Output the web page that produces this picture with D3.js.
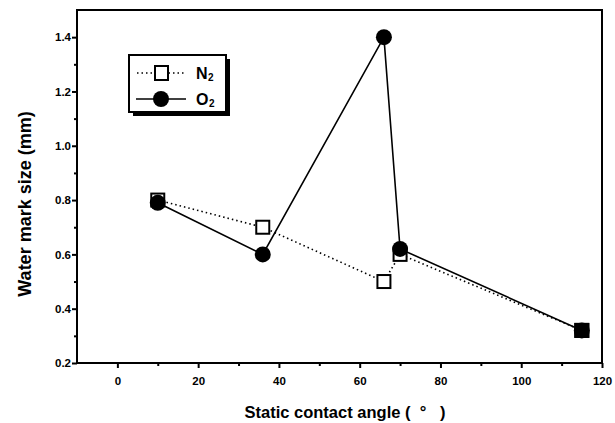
<!DOCTYPE html>
<html>
<head>
<meta charset="utf-8">
<script src="https://cdn.jsdelivr.net/npm/d3@7"></script>
<style>
  body { margin: 0; background: #fff; }
  text { font-family: "Liberation Sans", Arial, sans-serif; font-weight: bold; fill: #000; }
</style>
</head>
<body>
<svg id="chart" width="615" height="423"></svg>
<script>
// contact angle (deg) for each sample
const angles = [10, 36, 66, 70, 115];
const n2Values = [0.80, 0.70, 0.50, 0.60, 0.32];
const o2Values = [0.79, 0.60, 1.40, 0.62, 0.32];
const xTicks = [0, 20, 40, 60, 80, 100, 120];
const yTicks = [0.2, 0.4, 0.6, 0.8, 1.0, 1.2, 1.4];

const plotL = 77, plotR = 602, plotT = 10, plotB = 363;

const svg = d3.select("#chart");

const x = d3.scaleLinear().domain([-10, 120]).range([plotL, plotR]);
const y = d3.scaleLinear().domain([0.2, 1.5]).range([plotB, plotT]);

// frame
svg.append("rect")
  .attr("x", plotL).attr("y", plotT)
  .attr("width", plotR - plotL).attr("height", plotB - plotT)
  .attr("fill", "none").attr("stroke", "#000").attr("stroke-width", 2);

// x axis
const xAxis = svg.append("g").attr("transform", "translate(0," + plotB + ")");
xAxis.call(d3.axisBottom(x).tickValues(xTicks).tickSize(5).tickFormat(d3.format("d")));
xAxis.append("g").call(d3.axisBottom(x).tickValues([10, 30, 50, 70, 90, 110]).tickSize(3).tickFormat(""));
xAxis.selectAll(".domain").remove();
xAxis.selectAll("line").attr("stroke", "#000").attr("stroke-width", 2);
xAxis.selectAll("text").attr("font-size", 11.5).attr("dy", "1.25em")
  .style("font-family", "Liberation Sans, Arial, sans-serif").style("font-weight", "bold");

// y axis
const yAxis = svg.append("g").attr("transform", "translate(" + plotL + ",0)");
yAxis.call(d3.axisLeft(y).tickValues(yTicks).tickSize(5).tickFormat(d3.format(".1f")));
yAxis.append("g").call(d3.axisLeft(y).tickValues([0.3, 0.5, 0.7, 0.9, 1.1, 1.3]).tickSize(3).tickFormat(""));
yAxis.selectAll(".domain").remove();
yAxis.selectAll("line").attr("stroke", "#000").attr("stroke-width", 2);
yAxis.selectAll("text").attr("font-size", 11.5).attr("x", -6)
  .style("font-family", "Liberation Sans, Arial, sans-serif").style("font-weight", "bold");

// axis titles
svg.append("text")
  .attr("x", 345).attr("y", 418)
  .attr("text-anchor", "middle").attr("font-size", 16.5)
  .text("Static contact angle (\u00a0\u00a0\u00b0\u00a0\u00a0\u00a0)");

svg.append("text")
  .attr("transform", "translate(31,204) rotate(-90)")
  .attr("text-anchor", "middle").attr("font-size", 18)
  .text("Water mark size (mm)");

const lineGen = d3.line().x(d => x(d[0])).y(d => y(d[1]));
const n2 = angles.map((a, i) => [a, n2Values[i]]);
const o2 = angles.map((a, i) => [a, o2Values[i]]);

// N2 dotted line
svg.append("path").datum(n2).attr("d", lineGen)
  .attr("fill", "none").attr("stroke", "#000").attr("stroke-width", 1.6)
  .attr("stroke-dasharray", "1.5,3");

// O2 solid line
svg.append("path").datum(o2).attr("d", lineGen)
  .attr("fill", "none").attr("stroke", "#000").attr("stroke-width", 1.6);

// N2 open squares
svg.selectAll("rect.n2").data(n2).enter().append("rect")
  .attr("class", "n2")
  .attr("x", d => x(d[0]) - 6.5).attr("y", d => y(d[1]) - 6.5)
  .attr("width", 13).attr("height", 13)
  .attr("fill", "#fff").attr("stroke", "#000").attr("stroke-width", 2);

// O2 filled circles
svg.selectAll("circle.o2").data(o2).enter().append("circle")
  .attr("class", "o2")
  .attr("cx", d => x(d[0])).attr("cy", d => y(d[1]))
  .attr("r", 8).attr("fill", "#000");

// last point: both coincide -> filled square look
svg.append("rect")
  .attr("x", x(angles[4]) - 7.5).attr("y", y(n2Values[4]) - 7.5)
  .attr("width", 15).attr("height", 15).attr("fill", "#000");

// legend
const lg = svg.append("g");
lg.append("rect").attr("x", 133).attr("y", 59).attr("width", 97).attr("height", 57).attr("fill", "#000");
lg.append("rect").attr("x", 129).attr("y", 55).attr("width", 97).attr("height", 57)
  .attr("fill", "#fff").attr("stroke", "#000").attr("stroke-width", 2);

lg.append("line").attr("x1", 137).attr("x2", 186).attr("y1", 73).attr("y2", 73)
  .attr("stroke", "#000").attr("stroke-width", 1.6).attr("stroke-dasharray", "1.5,3");
lg.append("rect").attr("x", 155).attr("y", 66).attr("width", 13).attr("height", 14)
  .attr("fill", "#fff").attr("stroke", "#000").attr("stroke-width", 2);
lg.append("text").attr("x", 196).attr("y", 79).attr("font-size", 16).text("N");
lg.append("text").attr("x", 208).attr("y", 81).attr("font-size", 10).text("2");

lg.append("line").attr("x1", 136).attr("x2", 186).attr("y1", 99).attr("y2", 99)
  .attr("stroke", "#000").attr("stroke-width", 1.6);
lg.append("circle").attr("cx", 161).attr("cy", 99).attr("r", 8).attr("fill", "#000");
lg.append("text").attr("x", 196).attr("y", 105).attr("font-size", 16).text("O");
lg.append("text").attr("x", 209).attr("y", 107).attr("font-size", 10).text("2");
</script>
</body>
</html>
